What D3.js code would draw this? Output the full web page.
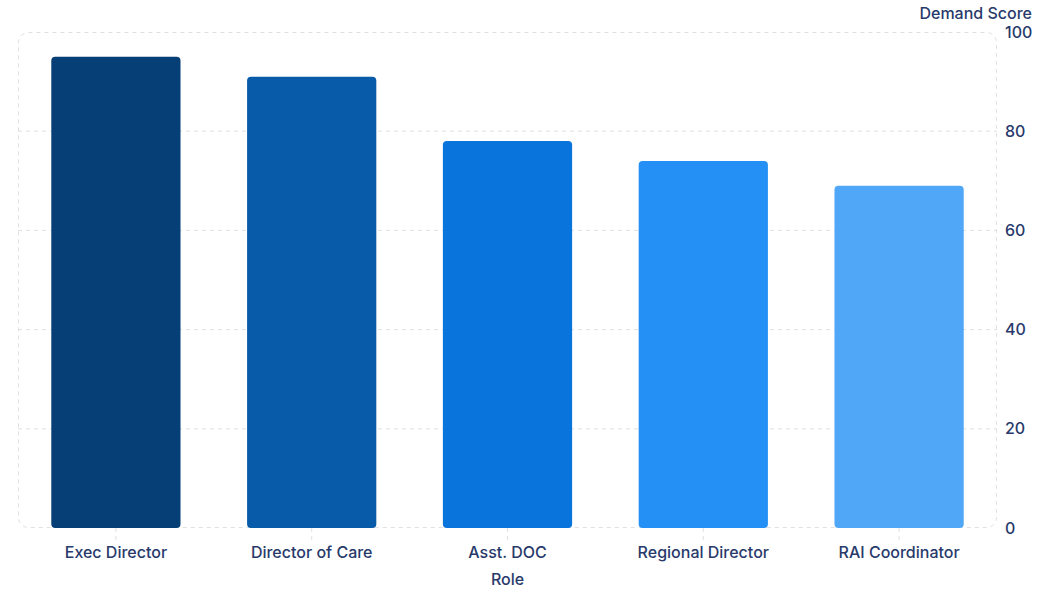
<!DOCTYPE html>
<html>
<head>
<meta charset="utf-8">
<script src="https://cdn.jsdelivr.net/npm/d3@7"></script>
<style>
  body { margin: 0; background: #fff; }
  svg { font-family: Inter, "Noto Sans", sans-serif; }
</style>
</head>
<body>
<div id="chart"></div>
<script>
// Demand score by role
const roles = ['Exec Director', 'Director of Care', 'Asst. DOC', 'Regional Director', 'RAI Coordinator'];
const scores = [95, 91, 78, 74, 69];
const barColors = ['#063f75', '#075ba9', '#0874dc', '#2490f5', '#51a7f7'];
const yTicks = [0, 20, 40, 60, 80, 100];

const width = 1058, height = 589;
const margin = { top: 32, right: 61, bottom: 61, left: 18 };
const innerW = width - margin.left - margin.right;
const innerH = height - margin.top - margin.bottom;
const textColor = '#283a6b';
const fontFamily = 'Inter, "Noto Sans", sans-serif';

const svg = d3.select('#chart')
  .append('svg')
  .attr('width', width)
  .attr('height', height);

const g = svg.append('g')
  .attr('transform', `translate(${margin.left},${margin.top})`);

const x = d3.scaleBand()
  .domain(roles)
  .range([0, innerW])
  .paddingInner(0.34)
  .paddingOuter(0.17);

const y = d3.scaleLinear()
  .domain([0, 100])
  .range([innerH, 0]);

// grid lines
g.selectAll('line.grid')
  .data(yTicks.filter(t => t > 0 && t < 100))
  .enter()
  .append('line')
  .attr('class', 'grid')
  .attr('x1', 0)
  .attr('x2', innerW)
  .attr('y1', d => y(d))
  .attr('y2', d => y(d))
  .attr('stroke', '#e0e0e0')
  .attr('stroke-dasharray', '4,4');

// plot frame
g.append('rect')
  .attr('x', 0.5)
  .attr('y', 0.5)
  .attr('width', innerW - 1)
  .attr('height', innerH - 1)
  .attr('rx', 10)
  .attr('fill', 'none')
  .attr('stroke', '#e0e0e0')
  .attr('stroke-dasharray', '4,4');

// bars
g.selectAll('rect.bar')
  .data(roles)
  .enter()
  .append('rect')
  .attr('class', 'bar')
  .attr('x', d => x(d))
  .attr('y', (d, i) => y(scores[i]))
  .attr('width', x.bandwidth())
  .attr('height', (d, i) => innerH - y(scores[i]))
  .attr('rx', 4)
  .attr('fill', (d, i) => barColors[i]);

// x axis
const xAxis = g.append('g')
  .attr('transform', `translate(0,${innerH})`)
  .call(d3.axisBottom(x).tickSize(12).tickPadding(7))
  .attr('font-family', fontFamily);
xAxis.select('.domain').remove();
xAxis.selectAll('.tick line')
  .attr('stroke', '#e0e0e0')
  .attr('stroke-dasharray', '4,4');
xAxis.selectAll('.tick text')
  .attr('fill', textColor)
  .attr('font-size', 16)
  .attr('font-weight', 500);

// y axis on the right
const yAxis = g.append('g')
  .attr('transform', `translate(${innerW},0)`)
  .call(d3.axisRight(y).tickValues(yTicks).tickSize(0).tickPadding(8))
  .attr('font-family', fontFamily);
yAxis.select('.domain').remove();
yAxis.selectAll('.tick text')
  .attr('fill', textColor)
  .attr('font-size', 16)
  .attr('font-weight', 500);

// axis titles
svg.append('text')
  .attr('x', margin.left + innerW / 2)
  .attr('y', 585)
  .attr('text-anchor', 'middle')
  .attr('fill', textColor)
  .attr('font-size', 16)
  .attr('font-weight', 500)
  .text('Role');

svg.append('text')
  .attr('x', 1032)
  .attr('y', 19)
  .attr('text-anchor', 'end')
  .attr('fill', textColor)
  .attr('font-size', 16)
  .attr('font-weight', 500)
  .text('Demand Score');
</script>
</body>
</html>
